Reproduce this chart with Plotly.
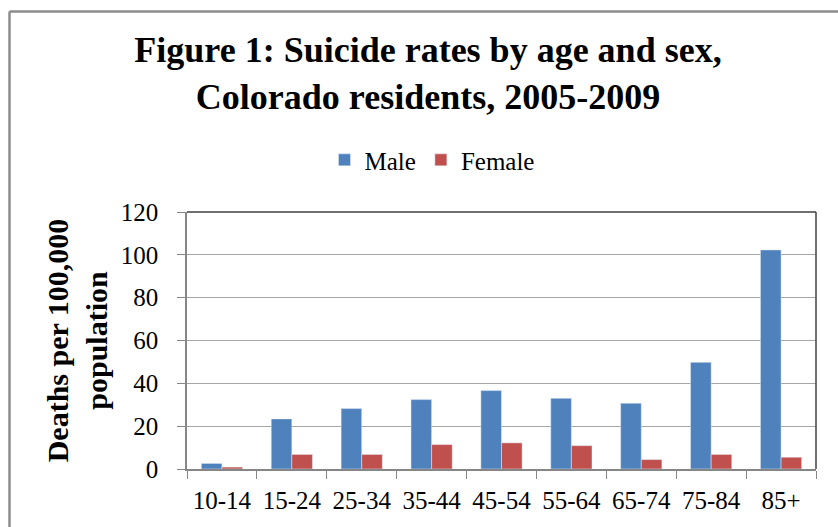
import plotly.graph_objects as go

categories = ["10-14", "15-24", "25-34", "35-44", "45-54", "55-64", "65-74", "75-84", "85+"]
male = [2.6, 23.4, 28.2, 32.4, 36.6, 33.0, 30.7, 49.8, 102.3]
female = [0.9, 6.8, 6.8, 11.4, 12.2, 10.9, 4.4, 6.8, 5.5]
y_ticks = [0, 20, 40, 60, 80, 100, 120]

FONT = "Liberation Serif, Times New Roman, serif"
W, H = 838, 527
L, R, T, B = 187, 22, 212, 57.5
pw, ph = W - L - R, H - T - B

def px_x(x):
    return (x - L) / pw

def px_y(y):
    return (H - B - y) / ph

fig = go.Figure()
fig.add_trace(go.Bar(name="Male", x=categories, y=male, marker_color="#4F81BD"))
fig.add_trace(go.Bar(name="Female", x=categories, y=female, marker_color="#C0504D"))

fig.update_layout(
    width=W, height=H,
    margin=dict(l=L, r=R, t=T, b=B, autoexpand=False),
    paper_bgcolor="white", plot_bgcolor="white",
    barmode="group", bargap=0.41, bargroupgap=0,
    font=dict(family=FONT, color="black"),
    title=dict(
        text="<b>Figure 1: Suicide rates by age and sex,<br>Colorado residents, 2005-2009</b>",
        font=dict(family=FONT, size=36, color="black"),
        x=428 / W, xanchor="center", xref="container",
        y=1 - 62 / H, yanchor="top", yref="container",
    ),
    legend=dict(
        orientation="h", x=px_x(432), xanchor="center", y=px_y(160), yanchor="middle",
        font=dict(family=FONT, size=25, color="black"), itemwidth=30,
        bgcolor="rgba(0,0,0,0)",
    ),
    showlegend=True,
)

fig.update_xaxes(
    type="category", tickson="boundaries", ticks="outside", ticklen=8,
    tickcolor="#868686", showline=True, linecolor="#868686", linewidth=1.5,
    tickfont=dict(family=FONT, size=25, color="black"), showgrid=False,
    ticklabelstandoff=8,
)
fig.update_yaxes(
    range=[0, 120], tickvals=y_ticks, ticks="outside", ticklen=8, tickcolor="#868686",
    showline=True, linecolor="#868686", linewidth=1.5, showgrid=True, gridcolor="#A6A6A6",
    gridwidth=1.2, zeroline=False, ticklabelstandoff=14,
    tickfont=dict(family=FONT, size=25, color="black"),
    title=dict(text="<b>Deaths per 100,000<br>population</b>",
               font=dict(family=FONT, size=30, color="black"), standoff=4),
)

# plot-area frame: top and right edges darker
fig.add_shape(type="line", xref="paper", yref="paper", x0=0, x1=1, y0=1, y1=1,
              line=dict(color="#404040", width=1.5))
fig.add_shape(type="line", xref="paper", yref="paper", x0=1, x1=1, y0=0, y1=1,
              line=dict(color="#404040", width=1.5))
# outer chart border (left and top edges visible in the crop)
fig.add_shape(type="line", xref="paper", yref="paper",
              x0=px_x(9.5), x1=px_x(9.5), y0=px_y(11), y1=px_y(540),
              line=dict(color="#8C8C8C", width=2.5))
fig.add_shape(type="line", xref="paper", yref="paper",
              x0=px_x(9.5), x1=px_x(850), y0=px_y(11), y1=px_y(11),
              line=dict(color="#8C8C8C", width=2.5))

fig.write_html("out.html")
